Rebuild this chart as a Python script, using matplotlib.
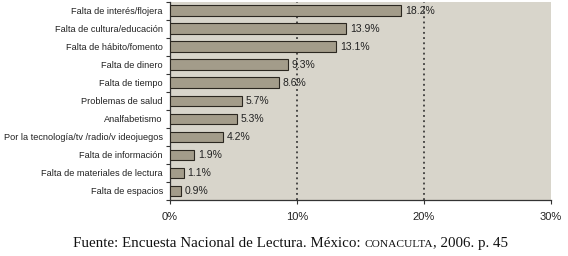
import matplotlib
matplotlib.use("Agg")
import matplotlib.pyplot as plt
from matplotlib.ticker import FixedLocator, NullFormatter
from matplotlib.transforms import IdentityTransform

categories = ["Falta de interés/flojera", "Falta de cultura/educación", "Falta de hábito/fomento",
              "Falta de dinero", "Falta de tiempo", "Problemas de salud", "Analfabetismo",
              "Por la tecnología/tv /radio/v ideojuegos", "Falta de información",
              "Falta de materiales de lectura", "Falta de espacios"]
values = [18.2, 13.9, 13.1, 9.3, 8.6, 5.7, 5.3, 4.2, 1.9, 1.1, 0.9]
xticks = [0, 10, 20, 30]
xticklabels = ["0%", "10%", "20%", "30%"]

fig = plt.figure(figsize=(5.68, 2.56), dpi=100)
fig.patch.set_facecolor("white")
ax = fig.add_axes([0.299, 0.219, 0.671, 0.775])
ax.set_facecolor("#d8d5cb")

n = len(categories)
ypos = list(range(n))
ax.barh(ypos, values, height=0.58, color="#a39c8a", edgecolor="#2b2720", linewidth=0.8, zorder=3)
for y, v in zip(ypos, values):
    ax.text(v + 0.3, y, f"{v}%", va="center", ha="left", fontsize=7.5,
            family="Liberation Sans", color="#222222", zorder=4)

ax.set_xlim(0, 30)
ax.set_ylim(n - 0.5, -0.5)
ax.set_yticks(ypos)
ax.set_yticklabels(categories, fontsize=6.6, family="Liberation Sans", color="#222222")
ax.tick_params(axis="y", length=0, pad=5)
ax.yaxis.set_minor_locator(FixedLocator([i - 0.5 for i in range(n + 1)]))
ax.yaxis.set_minor_formatter(NullFormatter())
ax.tick_params(axis="y", which="minor", length=3, color="#333333", width=0.8)

ax.set_xticks(xticks)
ax.set_xticklabels(xticklabels, fontsize=8, family="Liberation Sans", color="#222222")
ax.tick_params(axis="x", length=3, color="#333333", width=0.8, pad=6)

for gx in [10, 20]:
    ax.axvline(gx, color="#222222", linestyle=(0, (1.2, 2.2)), linewidth=1.1, zorder=2)

for s in ["top", "right"]:
    ax.spines[s].set_visible(False)
for s in ["left", "bottom"]:
    ax.spines[s].set_color("#333333")
    ax.spines[s].set_linewidth(0.9)

# footer with small-caps CONACULTA
base_y = 0.035 * fig.bbox.height
t1 = fig.text(73, base_y, "Fuente: Encuesta Nacional de Lectura. México: ", transform=IdentityTransform(),
              ha="left", va="baseline", fontsize=10.8, family="Liberation Serif", color="#111111")
fig.canvas.draw()
r = fig.canvas.get_renderer()
bb1 = t1.get_window_extent(r)
t2 = fig.text(bb1.x1, base_y, "CONACULTA", transform=IdentityTransform(),
              ha="left", va="baseline", fontsize=8.2, family="Liberation Serif", color="#111111")
bb2 = t2.get_window_extent(r)
fig.text(bb2.x1, base_y, ", 2006. p. 45", transform=IdentityTransform(),
         ha="left", va="baseline", fontsize=10.8, family="Liberation Serif", color="#111111")

fig.savefig("out.png", dpi=100)
